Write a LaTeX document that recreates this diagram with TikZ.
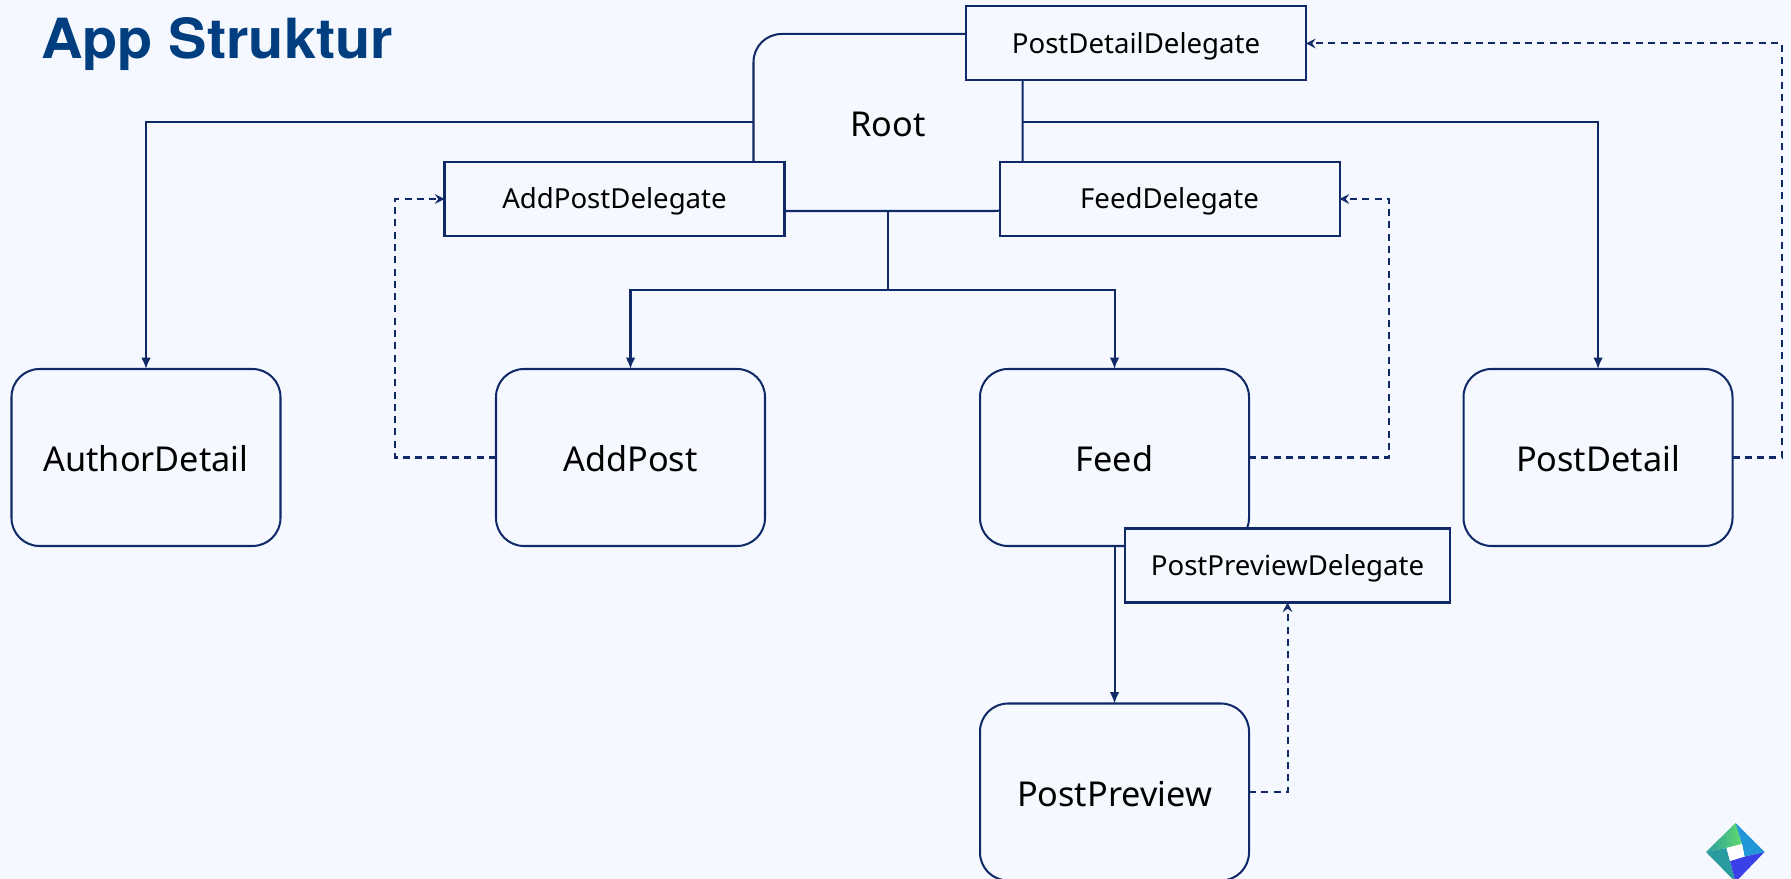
\documentclass[tikz,border=0pt]{standalone}
\usepackage{fontspec}
\setmainfont{Noto Sans}
\newfontfamily\titlefont[FakeStretch=1.04]{TeX Gyre Heros}
\usetikzlibrary{arrows.meta,positioning,calc}
\definecolor{pagebg}{HTML}{F5F8FF}
\definecolor{linecol}{HTML}{0F2A66}
\definecolor{titlecol}{HTML}{003E80}
\definecolor{logogreen}{HTML}{62DC6C}
\definecolor{logoteal}{HTML}{2A9CA0}
\definecolor{logocyan}{HTML}{2196D8}
\definecolor{logoblue}{HTML}{3A3FE8}
\begin{document}
\begin{tikzpicture}[line width=1.15pt,
                       screen node/.style={rectangle,rounded corners=0.56cm,draw=linecol,minimum width=5.38cm,minimum height=3.54cm,outer sep=0pt,inner sep=0pt,text height=16.5pt,text depth=0pt,font=\fontsize{19.5}{22}\selectfont},
                       delegate node/.style={rectangle,draw=linecol,fill=pagebg,minimum width=6.80cm,minimum height=1.48cm,outer sep=0pt,inner sep=0pt,text height=11.2pt,text depth=0pt,font=\fontsize{15.7}{18}\selectfont},
                       owns/.style={draw=linecol,-{Latex[length=6.5pt,width=5.5pt]}},
                       plain link/.style={draw=linecol},
                       uses/.style={draw=linecol,dash pattern=on 4pt off 3pt,-{Stealth[inset=2pt,length=5.5pt,width=5.5pt,open,fill=pagebg]}}
                      ]
  \fill[pagebg] (0,0) rectangle (35.82,17.58);
  \useasboundingbox (0,0) rectangle (35.82,17.58);
  \node[anchor=base west,inner sep=0pt,text=titlecol,font=\titlefont\bfseries\fontsize{31.5}{36}\selectfont] (title) at (0.80,16.40) {App Struktur};
  \node[screen node] (root) at (17.76,15.13) {Root};
  \node[screen node] (author) at (2.92,8.43) {AuthorDetail};
  \node[screen node] (addpost) at (12.61,8.43) {AddPost};
  \node[screen node] (feed) at (22.29,8.43) {Feed};
  \node[screen node] (postdetail) at (31.96,8.43) {PostDetail};
  \node[screen node] (postpreview) at (22.29,1.74) {PostPreview};
  \coordinate (branch) at (17.76,11.78);
  \coordinate (addpost turn) at (7.90,13.60);
  \coordinate (feed turn) at (27.78,13.60);
  \coordinate (postdetail turn) at (35.64,16.71);
  \coordinate (postpreview turn) at (25.75,1.74);
  \path[owns] (root.west) -| (author.north);
  \path[owns] (root.east) -| (postdetail.north);
  \path[plain link] (root.south) -- (branch);
  \path[owns] (branch) -| (addpost.north);
  \path[owns] (branch) -| (feed.north);
  \path[owns] (feed.south) -- (postpreview.north);
  \node[delegate node] (postdetaildelegate) at (22.72,16.71) {PostDetailDelegate};
  \node[delegate node] (addpostdelegate) at (12.29,13.60) {AddPostDelegate};
  \node[delegate node] (feeddelegate) at (23.39,13.60) {FeedDelegate};
  \node[delegate node,minimum width=6.50cm] (postpreviewdelegate) at (25.75,6.27) {PostPreviewDelegate};
  \path[uses] (addpost.west) -| (addpost turn) -- (addpostdelegate.west);
  \path[uses] (feed.east) -| (feed turn) -- (feeddelegate.east);
  \path[uses] (postdetail.east) -| (postdetail turn) -- (postdetaildelegate.east);
  \path[uses] (postpreview.east) -- (postpreview turn) -- (postpreviewdelegate.south);
  % logo
  \path[left color=logoteal,right color=logogreen] (34.71,1.12) -- (34.12,0.54) -- (34.53,0.62) -- (34.84,0.70) -- cycle;
  \fill[logoteal] (34.12,0.54) -- (34.71,-0.06) -- (34.60,0.36) -- (34.53,0.62) -- cycle;
  \fill[logoblue] (34.71,-0.06) -- (35.29,0.54) -- (34.89,0.45) -- (34.60,0.36) -- cycle;
  \fill[logocyan] (35.29,0.54) -- (34.71,1.12) -- (34.84,0.70) -- (34.89,0.45) -- cycle;
  \fill[white] (34.53,0.62) -- (34.84,0.70) -- (34.89,0.45) -- (34.60,0.36) -- cycle;
\end{tikzpicture}
\end{document}
